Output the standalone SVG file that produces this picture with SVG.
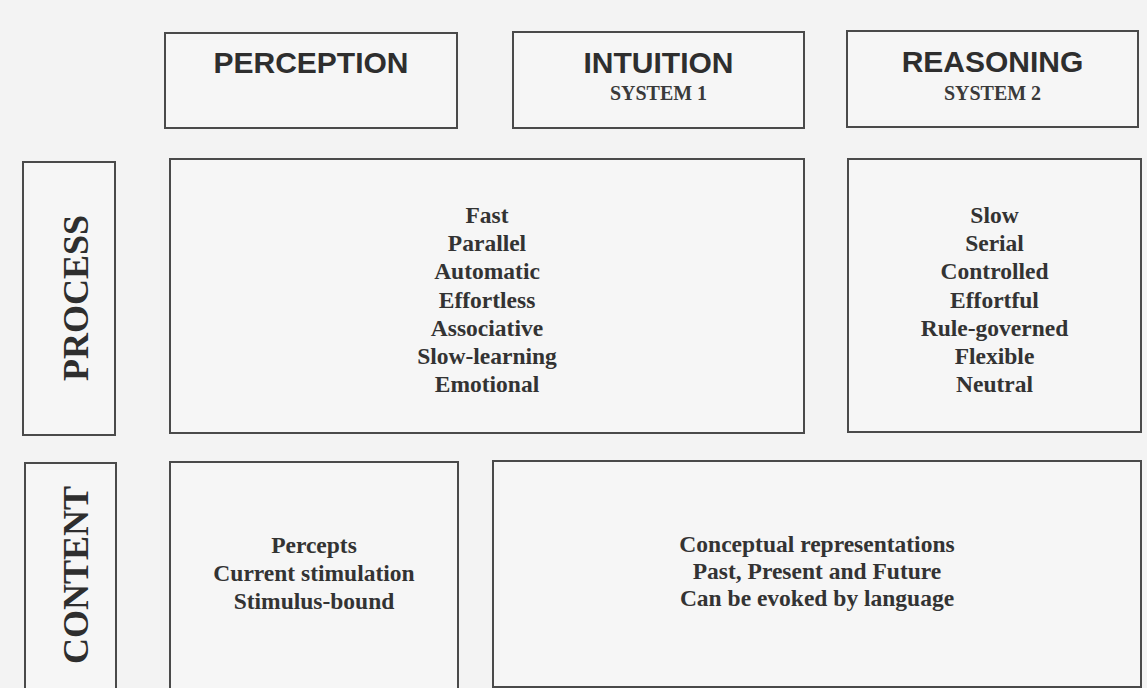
<svg xmlns="http://www.w3.org/2000/svg" width="1147" height="688" viewBox="0 0 1147 688">
<style>
.box{fill:#f6f6f6;stroke:#4a4a4a;stroke-width:2}
.hd{font-family:"Liberation Sans",Arial,sans-serif;font-weight:bold;font-size:30px;fill:#2e2e2e;text-anchor:middle}
.sys{font-family:"Liberation Serif","Times New Roman",serif;font-weight:bold;font-size:20px;fill:#3a3a3a;text-anchor:middle}
.side{font-family:"Liberation Serif","Times New Roman",serif;font-weight:bold;font-size:36px;fill:#2e2e2e;text-anchor:middle}
.t{font-family:"Liberation Serif","Times New Roman",serif;font-weight:bold;font-size:23.5px;fill:#333;text-anchor:middle}
</style>
<rect x="0" y="0" width="1147" height="688" fill="#f3f3f3"/>
<g id="perception">
<rect class="box" x="165" y="33" width="292" height="95"/>
<text class="hd" x="311" y="73">PERCEPTION</text>
</g>
<g id="intuition">
<rect class="box" x="513" y="32" width="291" height="96"/>
<text class="hd" x="658.5" y="73">INTUITION</text>
<text class="sys" x="658.5" y="100">SYSTEM 1</text>
</g>
<g id="reasoning">
<rect class="box" x="847" y="31" width="291" height="96"/>
<text class="hd" x="992.5" y="72">REASONING</text>
<text class="sys" x="992.5" y="100">SYSTEM 2</text>
</g>
<g id="process-label">
<rect class="box" x="23" y="162" width="92" height="273"/>
<text class="side" transform="translate(88,298) rotate(-90)" x="0" y="0">PROCESS</text>
</g>
<g id="content-label">
<rect class="box" x="25" y="463" width="91" height="240"/>
<text class="side" transform="translate(88,575) rotate(-90)" x="0" y="0">CONTENT</text>
</g>
<g id="process-intuitive">
<rect class="box" x="170" y="159" width="634" height="274"/>
<text class="t" x="487" y="223">Fast</text>
<text class="t" x="487" y="251.2">Parallel</text>
<text class="t" x="487" y="279.4">Automatic</text>
<text class="t" x="487" y="307.6">Effortless</text>
<text class="t" x="487" y="335.8">Associative</text>
<text class="t" x="487" y="364">Slow-learning</text>
<text class="t" x="487" y="392.2">Emotional</text>
</g>
<g id="process-reasoning">
<rect class="box" x="848" y="159" width="293" height="273"/>
<text class="t" x="994.5" y="223">Slow</text>
<text class="t" x="994.5" y="251.2">Serial</text>
<text class="t" x="994.5" y="279.4">Controlled</text>
<text class="t" x="994.5" y="307.6">Effortful</text>
<text class="t" x="994.5" y="335.8">Rule-governed</text>
<text class="t" x="994.5" y="364">Flexible</text>
<text class="t" x="994.5" y="392.2">Neutral</text>
</g>
<g id="content-perception">
<rect class="box" x="170" y="462" width="288" height="240"/>
<text class="t" x="314" y="553">Percepts</text>
<text class="t" x="314" y="581">Current stimulation</text>
<text class="t" x="314" y="609">Stimulus-bound</text>
</g>
<g id="content-conceptual">
<rect class="box" x="493" y="461" width="648" height="226"/>
<text class="t" x="817" y="552">Conceptual representations</text>
<text class="t" x="817" y="579">Past, Present and Future</text>
<text class="t" x="817" y="606">Can be evoked by language</text>
</g>
<g id="connectors"></g>
</svg>
